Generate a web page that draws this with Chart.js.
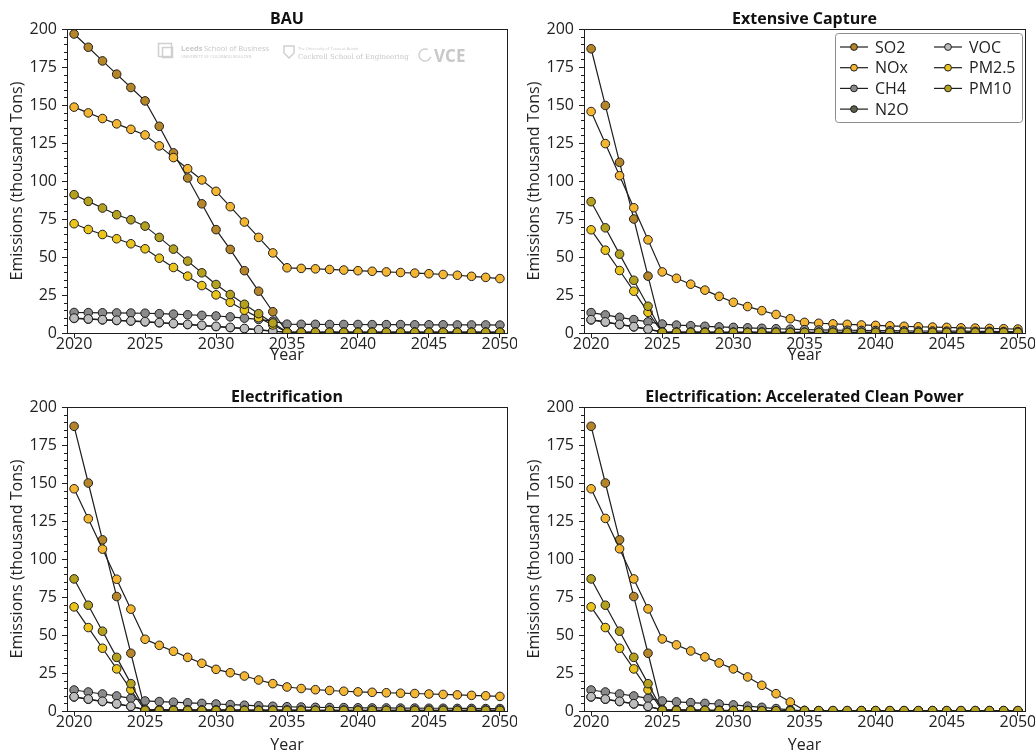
<!DOCTYPE html>
<html lang="en">
<head>
<meta charset="UTF-8">
<script src="https://cdn.jsdelivr.net/npm/chart.js"></script>
<title>Emissions by scenario</title>
<style>
  body { margin: 0; background: #fff; }
  canvas { position: absolute; }
</style>
</head>
<body>
<canvas id="bau" width="517" height="377" style="left:0;top:0"></canvas>
<canvas id="capture" width="518" height="377" style="left:517px;top:0"></canvas>
<canvas id="elec" width="517" height="378" style="left:0;top:377px"></canvas>
<canvas id="clean" width="518" height="378" style="left:517px;top:377px"></canvas>
<script>
// years and pollutants
const years = [2020,2021,2022,2023,2024,2025,2026,2027,2028,2029,2030,2031,2032,2033,2034,2035,
               2036,2037,2038,2039,2040,2041,2042,2043,2044,2045,2046,2047,2048,2049,2050];
const pollutants = ['SO2', 'NOx', 'CH4', 'N2O', 'VOC', 'PM2.5', 'PM10'];
const xTicks = [2020, 2025, 2030, 2035, 2040, 2045, 2050];
const yTicks = [0, 25, 50, 75, 100, 125, 150, 175, 200];

// BAU
const bauSO2  = [196.7,188,179,170.3,161.5,152.7,136,118.5,102,85,68,55,41,27.5,14,0.5,
                 0.3,0.3,0.3,0.3,0.3,0.3,0.3,0.3,0.3,0.3,0.3,0.3,0.3,0.3,0.3];
const bauNOx  = [148.6,144.8,141.1,137.6,134,130.3,123.1,115.4,108.1,100.7,93.2,83.1,73,62.9,52.7,42.9,
                 42.5,42.2,41.8,41.4,41,40.6,40.2,39.8,39.4,39,38.5,38,37.3,36.6,35.8];
const bauCH4  = [13.5,13.4,13.3,13.2,13.1,13,12.7,12.4,12,11.6,11.2,10.6,9.8,8.9,7.8,5.8,
                 5.7,5.7,5.6,5.6,5.6,5.5,5.5,5.5,5.4,5.4,5.4,5.3,5.3,5.3,5.2];
// N2O sits under VOC and is never seen
const bauN2O  = [9.6,9.1,8.6,8.2,7.8,7.3,6.7,6.1,5.5,4.9,4.2,3.5,2.8,2,1.1,0.4,
                 0.4,0.4,0.4,0.4,0.4,0.4,0.4,0.4,0.4,0.4,0.4,0.4,0.4,0.4,0.4];
const bauVOC  = [9.8,9.3,8.8,8.4,8,7.5,6.9,6.3,5.7,5.1,4.4,3.7,3,2.2,1.3,0.5,
                 0.5,0.5,0.5,0.5,0.5,0.5,0.5,0.5,0.5,0.5,0.5,0.5,0.5,0.5,0.5];
const bauPM25 = [71.9,68.1,64.8,62,58.7,55.4,49.2,43.1,37.4,31.2,25.1,20.2,15,10.1,5.3,0.5,
                 0.4,0.4,0.4,0.4,0.4,0.4,0.4,0.4,0.4,0.4,0.4,0.4,0.4,0.4,0.4];
const bauPM10 = [91,86.6,82.2,77.8,74.5,70.3,62.9,55.2,47.3,39.6,31.9,25.3,18.9,12.7,6.6,0.6,
                 0.5,0.5,0.5,0.5,0.5,0.5,0.5,0.5,0.5,0.5,0.5,0.5,0.5,0.5,0.5];

// Extensive Capture
const capSO2  = [187,149.7,112.3,75,37.4,0.5,0.3,0.3,0.3,0.3,0.3,0.3,0.3,0.3,0.3,0.3,
                 0.3,0.3,0.3,0.3,0.3,0.3,0.3,0.3,0.3,0.3,0.3,0.3,0.3,0.3,0.3];
const capNOx  = [145.7,124.6,103.5,82.4,61.3,40.2,36,32.1,28.2,24.1,20.2,17.4,14.7,12.2,9.4,7,
                 6.4,6,5.7,5.3,5,4.7,4.4,4.1,3.9,3.7,3.4,3.2,3,2.8,2.6];
const capCH4  = [13.4,11.9,10.3,8.8,7.3,5.9,5.2,4.8,4.4,4,3.7,3.4,3.1,2.8,2.5,2.2,
                 2,1.9,1.8,1.7,1.6,1.5,1.4,1.3,1.3,1.2,1.2,1.1,1.1,1,1];
const capN2O  = [8.6,7.1,5.5,4,2.4,0.6,0.5,0.5,0.5,0.4,0.4,0.4,0.4,0.4,0.3,0.3,
                 0.3,0.3,0.3,0.3,0.3,0.2,0.2,0.2,0.2,0.2,0.2,0.2,0.2,0.2,0.2];
const capVOC  = [8.8,7.3,5.7,4.2,2.6,0.8,0.6,0.6,0.6,0.5,0.5,0.5,0.5,0.5,0.4,0.4,
                 0.4,0.4,0.4,0.4,0.4,0.3,0.3,0.3,0.3,0.3,0.3,0.3,0.3,0.3,0.3];
const capPM25 = [67.9,54.5,41.1,27.5,13.6,0.4,0.3,0.3,0.3,0.3,0.3,0.3,0.3,0.3,0.3,0.3,
                 0.3,0.3,0.3,0.3,0.3,0.3,0.3,0.3,0.3,0.3,0.3,0.3,0.3,0.3,0.3];
const capPM10 = [86.4,69.2,51.9,34.7,17.6,0.5,0.4,0.4,0.4,0.4,0.4,0.4,0.4,0.4,0.4,0.4,
                 0.4,0.4,0.4,0.4,0.4,0.4,0.4,0.4,0.4,0.4,0.4,0.4,0.4,0.4,0.4];

// Electrification
const elecSO2  = [187.3,150,112.6,75.3,38,0.5,0.3,0.3,0.3,0.3,0.3,0.3,0.3,0.3,0.3,0.3,
                  0.3,0.3,0.3,0.3,0.3,0.3,0.3,0.3,0.3,0.3,0.3,0.3,0.3,0.3,0.3];
const elecNOx  = [146.2,126.5,106.5,86.7,67,47.2,43.2,39.3,35.3,31.4,27.4,25.2,23,20.4,18,15.8,
                  14.8,14,13.5,13,12.6,12.3,12,11.7,11.5,11.2,10.9,10.6,10.3,10,9.6];
const elecCH4  = [13.8,12.5,11.2,9.9,8.3,6.6,6.2,5.8,5.4,5,4.6,4.2,3.8,3.4,3.1,2.8,
                  2.6,2.4,2.3,2.2,2.1,2,2,1.9,1.9,1.8,1.8,1.7,1.7,1.6,1.6];
const elecN2O  = [9.2,7.7,6.2,4.6,2.9,0.8,0.7,0.6,0.6,0.5,0.5,0.5,0.4,0.4,0.4,0.4,
                  0.4,0.3,0.3,0.3,0.3,0.3,0.3,0.3,0.3,0.3,0.3,0.3,0.3,0.3,0.3];
const elecVOC  = [9.4,7.9,6.4,4.8,3.1,1,0.9,0.8,0.8,0.7,0.7,0.7,0.6,0.6,0.6,0.6,
                  0.6,0.5,0.5,0.5,0.5,0.5,0.5,0.5,0.5,0.5,0.5,0.5,0.5,0.5,0.5];
const elecPM25 = [68.5,54.9,41.3,27.7,14,0.3,0.3,0.3,0.3,0.3,0.3,0.3,0.3,0.3,0.3,0.3,
                  0.3,0.3,0.3,0.3,0.3,0.3,0.3,0.3,0.3,0.3,0.3,0.3,0.3,0.3,0.3];
const elecPM10 = [86.9,69.6,52.5,35.3,18,0.5,0.4,0.4,0.4,0.4,0.4,0.4,0.4,0.4,0.4,0.4,
                  0.4,0.4,0.4,0.4,0.4,0.4,0.4,0.4,0.4,0.4,0.4,0.4,0.4,0.4,0.4];

// Electrification: Accelerated Clean Power
const acpSO2  = [187.3,150,112.6,75.3,38,0.5,0.3,0.3,0.3,0.3,0.2,0.2,0.2,0.1,0.1,0,
                 0,0,0,0,0,0,0,0,0,0,0,0,0,0,0];
const acpNOx  = [146.2,126.7,106.7,86.9,67.2,47.4,43.5,39.5,35.6,31.6,27.7,22.4,16.9,11.4,5.9,0.4,
                 0.2,0.2,0.2,0.2,0.2,0.2,0.2,0.2,0.2,0.2,0.2,0.2,0.2,0.2,0.2];
const acpCH4  = [13.8,12.5,11.2,9.9,8.3,6.6,6,5.5,5,4.6,4,3.2,2.4,1.6,0.8,0.1,
                 0,0,0,0,0,0,0,0,0,0,0,0,0,0,0];
const acpN2O  = [9.2,7.7,6.2,4.6,2.9,0.8,0.6,0.5,0.4,0.3,0.2,0.2,0.1,0.1,0,0,
                 0,0,0,0,0,0,0,0,0,0,0,0,0,0,0];
const acpVOC  = [9.4,7.9,6.4,4.8,3.1,1,0.8,0.7,0.6,0.5,0.4,0.3,0.2,0.1,0.1,0,
                 0,0,0,0,0,0,0,0,0,0,0,0,0,0,0];
const acpPM25 = [68.5,54.9,41.3,27.7,14,0.3,0.3,0.3,0.3,0.2,0.2,0.2,0.2,0.1,0.1,0,
                 0,0,0,0,0,0,0,0,0,0,0,0,0,0,0];
const acpPM10 = [86.9,69.6,52.5,35.3,18,0.5,0.4,0.4,0.4,0.3,0.3,0.3,0.2,0.2,0.1,0.3,
                 0.3,0.3,0.3,0.3,0.3,0.3,0.3,0.3,0.3,0.3,0.3,0.3,0.3,0.3,0.3];

const colors = ['#b5852a', '#f4b632', '#8a8a8a', '#5e5e4c', '#bdbdbd', '#ecc51c', '#b3a11f'];
const ink = '#1e1e1e';
const fontFamily = '"Open Sans", "Noto Sans", sans-serif';

function makeSets(rows) {
  return rows.map((vals, i) => ({
    label: pollutants[i],
    data: vals.map((v, k) => ({ x: years[k], y: v })),
    borderColor: ink,
    borderWidth: 1.2,
    pointRadius: 4.3,
    pointBorderWidth: 1,
    pointBorderColor: ink,
    pointBackgroundColor: colors[i],
    order: rows.length - i,   // later pollutants on top
    clip: 0
  }));
}

// box around the plot area, minor y ticks and the panel title
const framePlugin = {
  id: 'frame',
  beforeDatasetsDraw(chart) {
    const { ctx, chartArea: a } = chart;
    const y = chart.scales.y;
    ctx.save();
    ctx.strokeStyle = ink;
    ctx.lineWidth = 1;
    ctx.strokeRect(Math.round(a.left) + 0.5, Math.round(a.top) + 0.5,
                   Math.round(a.right - a.left), Math.round(a.bottom - a.top));
    ctx.beginPath();
    for (let v = 5; v < 200; v += 5) {
      if (v % 25 === 0) continue;
      const py = Math.round(y.getPixelForValue(v)) + 0.5;
      ctx.moveTo(a.left - 3, py);
      ctx.lineTo(a.left, py);
    }
    ctx.stroke();
    ctx.fillStyle = '#111';
    ctx.font = 'bold 16px ' + fontFamily;
    ctx.textAlign = 'center';
    ctx.textBaseline = 'alphabetic';
    ctx.fillText(chart.options.panelTitle, (a.left + a.right) / 2, a.top - 5);
    ctx.restore();
  }
};

// faint sponsor marks in the BAU panel
const logoPlugin = {
  id: 'logos',
  beforeDatasetsDraw(chart) {
    const ctx = chart.ctx;
    ctx.save();
    ctx.strokeStyle = '#d0d0d0';
    ctx.fillStyle = '#c8c8c8';
    ctx.lineWidth = 1.5;
    ctx.strokeRect(158.5, 43.5, 13, 13);
    ctx.strokeRect(162.5, 47.5, 10, 10);
    ctx.font = 'bold 7.5px ' + fontFamily;
    ctx.textBaseline = 'alphabetic';
    ctx.fillText('Leeds', 181, 51);
    ctx.font = '7.5px ' + fontFamily;
    ctx.fillText('School of Business', 204, 51);
    ctx.font = '4px ' + fontFamily;
    ctx.fillText('UNIVERSITY OF COLORADO BOULDER', 181, 58);
    ctx.beginPath();
    ctx.moveTo(284, 46); ctx.lineTo(294, 46); ctx.lineTo(294, 53);
    ctx.lineTo(289, 58); ctx.lineTo(284, 53); ctx.closePath();
    ctx.stroke();
    ctx.font = '4px ' + fontFamily;
    ctx.fillText('The University of Texas at Austin', 298, 50);
    ctx.font = '7px "DejaVu Serif", serif';
    ctx.fillText('Cockrell School of Engineering', 298, 59);
    ctx.beginPath();
    ctx.arc(425, 55, 6, 0.3, 5.2);
    ctx.stroke();
    ctx.font = 'bold 17px ' + fontFamily;
    ctx.fillText('VCE', 434, 62);
    ctx.restore();
  }
};

// two-column legend in the Extensive Capture panel
const legendPlugin = {
  id: 'legendBox',
  afterDraw(chart) {
    const ctx = chart.ctx;
    const x0 = 318.5, y0 = 33.5, w = 187, h = 89;
    ctx.save();
    ctx.fillStyle = 'rgba(255,255,255,0.9)';
    ctx.strokeStyle = '#8c8c8c';
    ctx.lineWidth = 1;
    ctx.beginPath();
    ctx.roundRect(x0, y0, w, h, 3);
    ctx.fill();
    ctx.stroke();
    ctx.font = '16px ' + fontFamily;
    ctx.textBaseline = 'middle';
    ctx.textAlign = 'left';
    pollutants.forEach((name, i) => {
      const col = i < 4 ? 0 : 1;
      const row = i < 4 ? i : i - 4;
      const lx = col === 0 ? 323 : 417;
      const ly = 47 + row * 20.7;
      ctx.strokeStyle = ink;
      ctx.lineWidth = 1.2;
      ctx.beginPath();
      ctx.moveTo(lx, ly);
      ctx.lineTo(lx + 28, ly);
      ctx.stroke();
      ctx.beginPath();
      ctx.arc(lx + 14, ly, 3.4, 0, Math.PI * 2);
      ctx.fillStyle = colors[i];
      ctx.fill();
      ctx.lineWidth = 1;
      ctx.stroke();
      ctx.fillStyle = '#222';
      ctx.fillText(name, lx + 35, ly + 1);
    });
    ctx.restore();
  }
};

function makeChart(id, title, rows, top, xHeight, yearPad, extra) {
  const font = { family: fontFamily, size: 16 };
  new Chart(document.getElementById(id), {
    type: 'line',
    data: { datasets: makeSets(rows) },
    options: {
      panelTitle: title,
      responsive: false,
      animation: false,
      layout: { padding: { top: top, right: 10, left: 0, bottom: 0 } },
      plugins: { legend: { display: false }, tooltip: { enabled: false } },
      scales: {
        x: {
          type: 'linear',
          min: 2019.5,
          max: 2050.5,
          afterBuildTicks: s => { s.ticks = xTicks.map(v => ({ value: v })); },
          afterFit: s => { s.height = xHeight; },
          border: { display: false },
          grid: { drawOnChartArea: false, tickLength: 5, color: ink },
          ticks: { font: font, color: '#222', padding: -3, maxRotation: 0, autoSkip: false,
                   callback: v => String(v) },
          title: { display: true, text: 'Year', font: font, color: '#222',
                   padding: { top: 0, bottom: yearPad } }
        },
        y: {
          min: 0,
          max: 200,
          afterBuildTicks: s => { s.ticks = yTicks.map(v => ({ value: v })); },
          afterFit: s => { s.width = 67; },
          border: { display: false },
          grid: { drawOnChartArea: false, tickLength: 5, color: ink },
          ticks: { font: font, color: '#222', padding: 5, autoSkip: false },
          title: { display: true, text: 'Emissions (thousand Tons)', font: font, color: '#222',
                   padding: { top: 8, bottom: 0 } }
        }
      }
    },
    plugins: [framePlugin].concat(extra)
  });
}

makeChart('bau', 'BAU',
  [bauSO2, bauNOx, bauCH4, bauN2O, bauVOC, bauPM25, bauPM10], 29, 44, 12, [logoPlugin]);
makeChart('capture', 'Extensive Capture',
  [capSO2, capNOx, capCH4, capN2O, capVOC, capPM25, capPM10], 29, 44, 12, [legendPlugin]);
makeChart('elec', 'Electrification',
  [elecSO2, elecNOx, elecCH4, elecN2O, elecVOC, elecPM25, elecPM10], 30, 44, 0, []);
makeChart('clean', 'Electrification: Accelerated Clean Power',
  [acpSO2, acpNOx, acpCH4, acpN2O, acpVOC, acpPM25, acpPM10], 30, 44, 0, []);
</script>
</body>
</html>
